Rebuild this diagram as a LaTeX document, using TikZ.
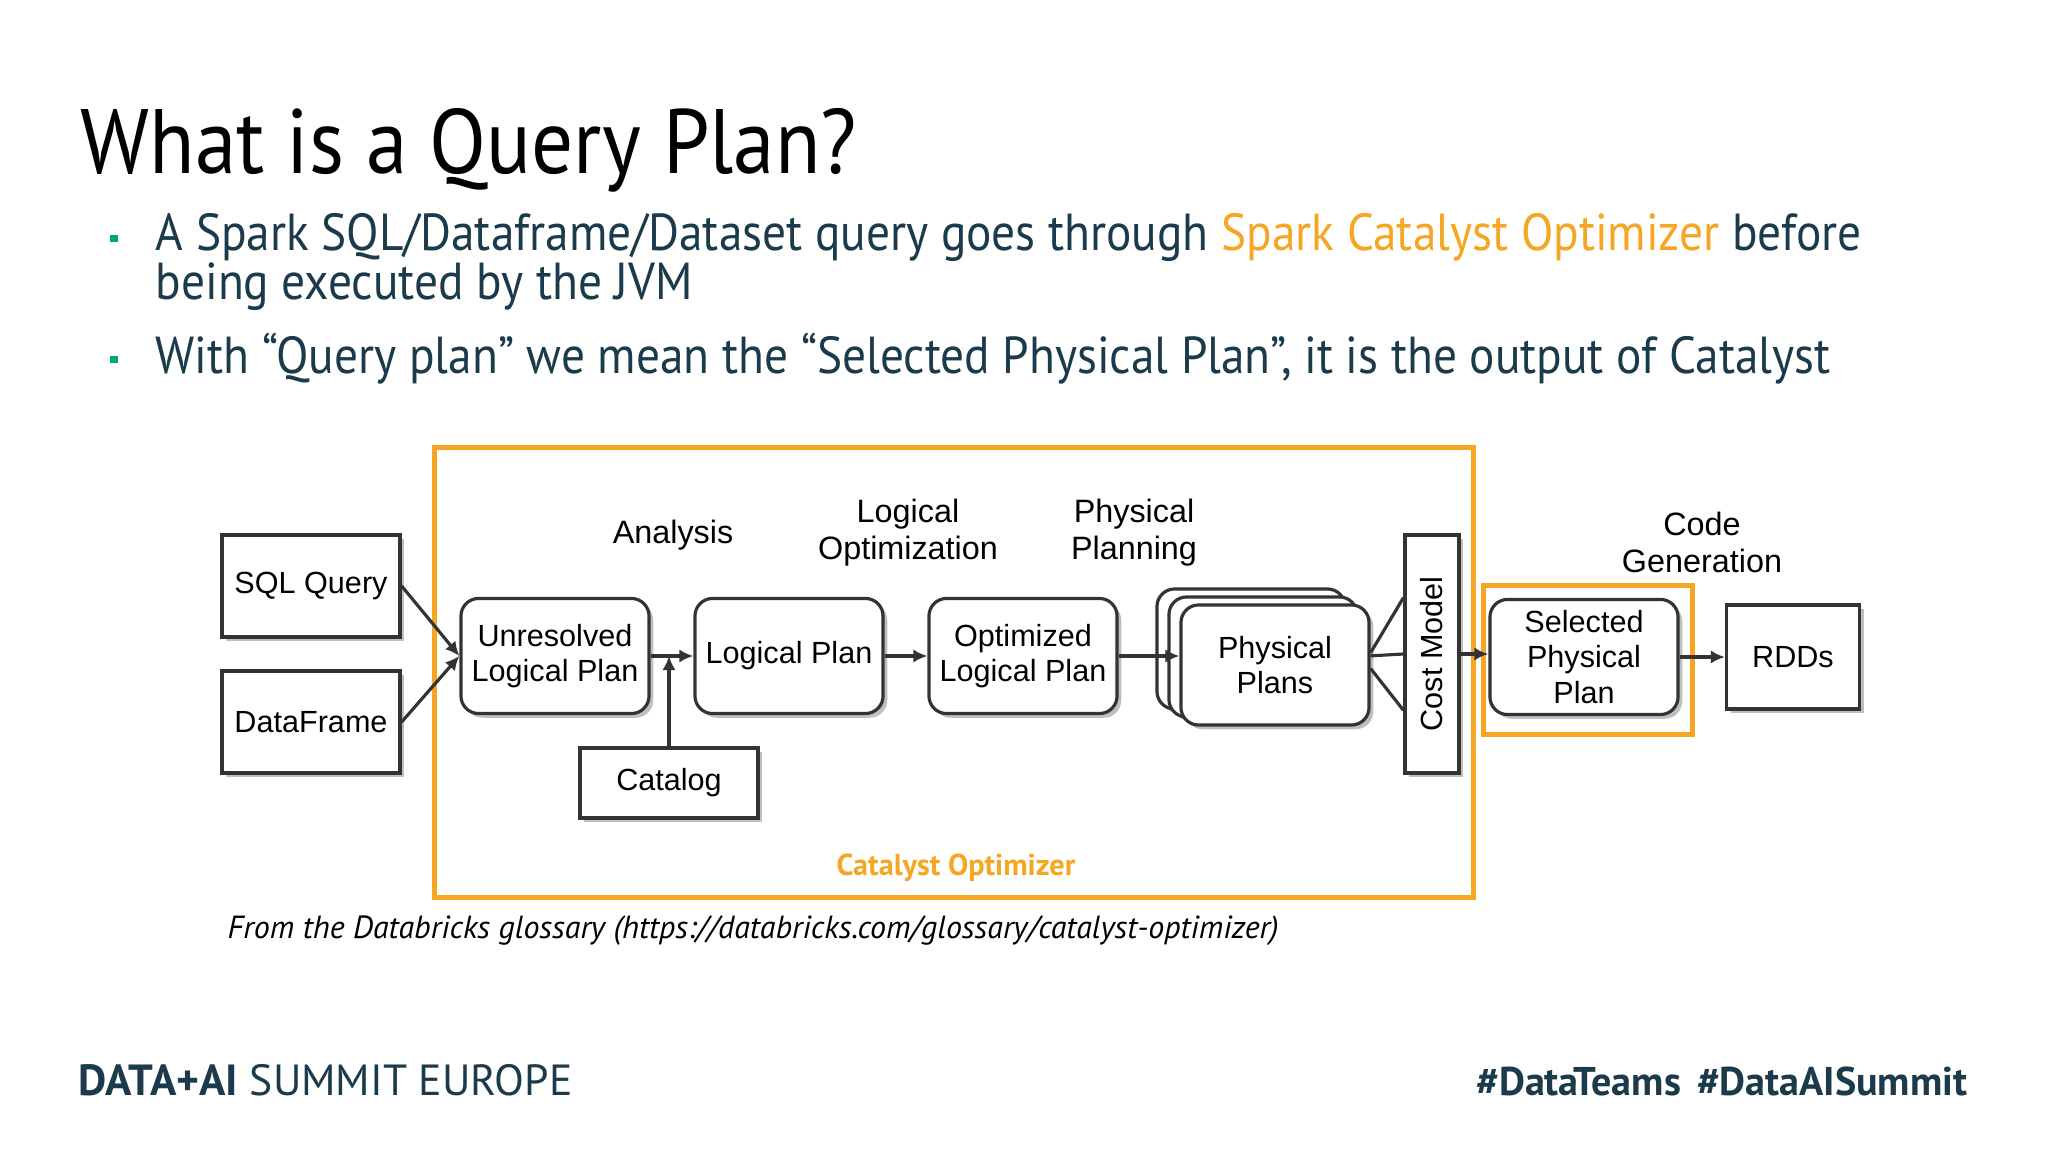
\documentclass[tikz,border=0pt]{standalone}
\usepackage{fontspec}
\setmainfont{PT Sans}
\newfontfamily\slidefont[FakeStretch=0.91]{PT Sans}
\newfontfamily\diagfont{Liberation Sans}
\usetikzlibrary{positioning,arrows.meta,shadows}

\definecolor{slideteal}{HTML}{1B3A4B}
\definecolor{catorange}{HTML}{F5A623}
\definecolor{bulletgreen}{HTML}{00A972}
\definecolor{boxline}{HTML}{333333}

\tikzset{
  boxshadow/.style={drop shadow={shadow xshift=1.2pt, shadow yshift=-1.2pt, fill=black, opacity=0.25}},
  planbox/.style={draw=boxline, line width=0.9pt, rounded corners=5pt, fill=white,
    minimum width=1.88cm, minimum height=1.15cm, align=center, inner sep=1pt,
    font=\diagfont\fontsize{8.7}{10}\selectfont, boxshadow},
  srcbox/.style={draw=boxline, line width=0.9pt, fill=white,
    minimum width=1.78cm, minimum height=1.02cm, align=center,
    font=\diagfont\fontsize{8.7}{10}\selectfont, boxshadow},
  stagelabel/.style={align=center, font=\diagfont\fontsize{9.2}{10.5}\selectfont},
  flow/.style={-{Latex[length=4pt,width=3.8pt]}, line width=0.9pt, draw=boxline},
  fanline/.style={line width=0.9pt, draw=boxline},
  catframe/.style={draw=catorange, line width=1.4pt},
  bullettext/.style={anchor=base west, inner sep=0pt, text=slideteal, font=\slidefont\fontsize{14.8}{17}\selectfont},
  bulletmark/.style={fill=bulletgreen, minimum size=0.07cm, inner sep=0pt},
}

\begin{document}
\begin{tikzpicture}[x=0.01cm, y=-0.01cm]
  \useasboundingbox[fill=white] (0,0) rectangle (2048,1152);

  % slide text
  \node[anchor=base west, inner sep=0pt, font=\slidefont\fontsize{26}{30}\selectfont] (title) at (80,174) {What is a Query Plan?};
  \node[bulletmark] (dotA) at (114,239) {};
  \node[bullettext] (lineA) at (155,251) {A Spark SQL/Dataframe/Dataset query goes through {\color{catorange}Spark Catalyst Optimizer} before};
  \node[bullettext] (lineB) at (155,300) {being executed by the JVM};
  \node[bulletmark] (dotB) at (114,360) {};
  \node[bullettext] (lineC) at (155,374) {With “Query plan” we mean the “Selected Physical Plan”, it is the output of Catalyst};

  % catalyst frame
  \node[catframe, minimum width=10.38cm, minimum height=4.49cm] (catalyst) at (954,672.5) {};
  \node[text=catorange, font=\bfseries\fontsize{8.6}{10}\selectfont] (catlabel) at (956,868) {Catalyst Optimizer};

  % inputs
  \node[srcbox] (sql) at (311,586) {SQL Query};
  \node[srcbox] (df) at (311,722) {DataFrame};
  \node[srcbox, minimum height=0.7cm] (catalog) at (669,783) {Catalog};

  % plans
  \node[planbox] (unres) at (555,656) {Unresolved\\Logical Plan};
  \node[planbox] (logical) at (789,656) {Logical Plan};
  \node[planbox] (optim) at (1023,656) {Optimized\\Logical Plan};
  \node[planbox, minimum height=1.2cm] (physC) at (1251,649) {};
  \node[planbox, minimum height=1.2cm] (physB) at (1263,657) {};
  \node[planbox, minimum height=1.2cm] (phys) at (1275,665) {Physical\\Plans};
  \node[srcbox, minimum width=0.54cm, minimum height=2.38cm, inner sep=0pt] (cost) at (1432,654) {\rotatebox{90}{Cost Model}};
  \node[planbox] (sel) at (1584,657) {Selected\\Physical\\Plan};
  \node[catframe, minimum width=2.09cm, minimum height=1.48cm] (selframe) at (1588,660) {};
  \node[srcbox, minimum width=1.33cm, minimum height=1.04cm] (rdd) at (1793,657) {RDDs};

  % stage labels
  \node[stagelabel] (analysis) at (673,535) {Analysis};
  \node[stagelabel] (logopt) at (908,533) {Logical\\Optimization};
  \node[stagelabel] (physplan) at (1134,533) {Physical\\Planning};
  \node[stagelabel] (codegen) at (1702,542) {Code\\Generation};

  % connectors
  \draw[flow] (sql.east) -- (unres.west);
  \draw[flow] (df.east) -- (unres.west);
  \draw[flow] (unres.east) -- (logical.west);
  \draw[flow] (catalog.north) -- (catalog.north |- unres.east);
  \draw[flow] (logical.east) -- (optim.west);
  \draw[flow] (optim.east) -- (optim.east -| phys.west);
  \draw[fanline] ([yshift=3.5pt]phys.east) -- ([yshift=16pt]cost.west);
  \draw[fanline] ([yshift=2.6pt]phys.east) -- ([yshift=0pt]cost.west);
  \draw[fanline] ([yshift=-1pt]phys.east) -- ([yshift=-16pt]cost.west);
  \draw[flow] (cost.east) -- (cost.east -| sel.west);
  \draw[flow] (sel.east) -- (rdd.west);

  % caption and footer
  \node[anchor=base west, inner sep=0pt, font=\itshape\fontsize{9.1}{11}\selectfont] (source) at (227,938) {From the Databricks glossary (https://databricks.com/glossary/catalyst-optimizer)};
  \node[anchor=base west, inner sep=0pt, text=slideteal, font=\fontsize{12.4}{14}\selectfont] (brand) at (78,1095) {\textbf{DATA+AI} SUMMIT EUROPE};
  \node[anchor=base east, inner sep=0pt, text=slideteal, font=\bfseries\fontsize{11.4}{13}\selectfont] (tags) at (1968,1095) {\#DataTeams\hspace{0.4em}\#DataAISummit};
\end{tikzpicture}
\end{document}
